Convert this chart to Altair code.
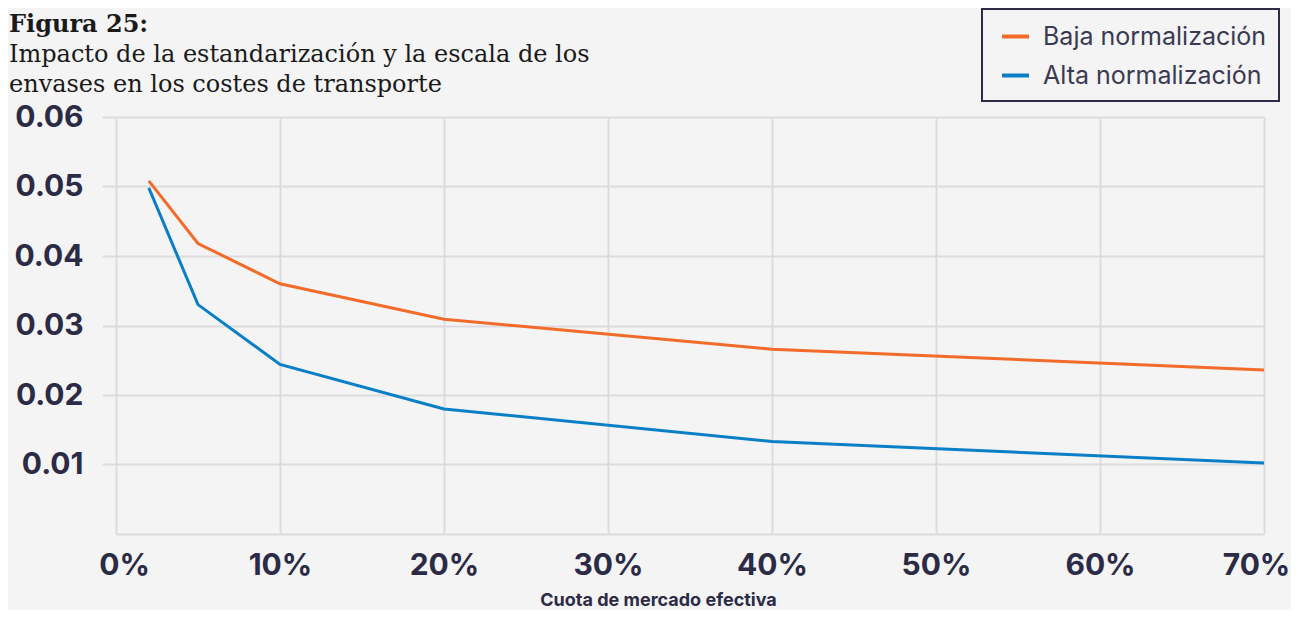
import altair as alt
import pandas as pd

# ---- data ----
share = [0.02, 0.05, 0.10, 0.20, 0.40, 0.70]
baja = [0.0508, 0.0418, 0.0360, 0.0309, 0.0266, 0.0236]
alta = [0.0498, 0.0330, 0.0244, 0.0180, 0.0133, 0.0102]
series_names = ["Baja normalización", "Alta normalización"]
series_colors = ["#f26b2a", "#0a7fc6"]
x_ticks = [0.0, 0.1, 0.2, 0.3, 0.4, 0.5, 0.6, 0.7]
y_ticks = [0.01, 0.02, 0.03, 0.04, 0.05, 0.06]
title_lines = [
    "Figura 25:",
    "Impacto de la estandarización y la escala de los",
    "envases en los costes de transporte",
]
x_title = "Cuota de mercado efectiva"

df = pd.DataFrame(
    {
        "cuota": share * 2,
        "coste": baja + alta,
        "serie": [series_names[0]] * len(share) + [series_names[1]] * len(share),
    }
)

INK = "#2b2b45"
GRID = "#dcdce0"
BG = "#f4f4f4"

lines = (
    alt.Chart(df)
    .mark_line(strokeWidth=3)
    .encode(
        x=alt.X(
            "cuota:Q",
            scale=alt.Scale(domain=[0, 0.7], nice=False),
            axis=alt.Axis(
                values=x_ticks,
                format=".0%",
                title=x_title,
                grid=True,
                gridColor=GRID,
                gridWidth=2,
                domain=True,
                domainColor=GRID,
                domainWidth=2,
                ticks=False,
                labelFlush=False,
                labelPadding=16,
                labelFont="Inter",
                labelFontWeight="bold",
                labelFontSize=30,
                labelColor=INK,
                labelOffset={
                    "condition": [
                        {"test": "datum.value === 0", "value": 8},
                        {"test": "datum.value >= 0.69", "value": -8},
                    ],
                    "value": 0,
                },
                titleFont="Inter",
                titleFontWeight="bold",
                titleFontSize=18,
                titleColor=INK,
                titleX=542,
                titleY=71,
                titleBaseline="alphabetic",
                titleAnchor="middle",
                titleAlign="center",
            ),
        ),
        y=alt.Y(
            "coste:Q",
            scale=alt.Scale(domain=[0, 0.06], nice=False),
            axis=alt.Axis(
                values=y_ticks,
                title=None,
                grid=True,
                gridColor=GRID,
                gridWidth=2,
                domain=False,
                ticks=True,
                tickSize=14,
                tickColor=GRID,
                tickWidth=2,
                labelPadding=19,
                labelFont="Inter",
                labelFontWeight="bold",
                labelFontSize=30,
                labelColor=INK,
            ),
        ),
        color=alt.Color(
            "serie:N",
            scale=alt.Scale(domain=series_names, range=series_colors),
            sort=series_names,
            legend=alt.Legend(
                title=None,
                orient="none",
                legendX=866,
                legendY=-108,
                padding=12,
                strokeColor=INK,
                fillColor=BG,
                symbolType="stroke",
                symbolSize=729,
                symbolStrokeWidth=4,
                symbolOffset=6,
                labelFont="Inter",
                labelFontSize=25,
                labelColor="#3a3a52",
                labelOffset=12,
                labelLimit=400,
                rowPadding=10,
            ),
        ),
    )
)

title_y = [-85, -55, -25]
title_weight = ["bold", "normal", "normal"]
title_layers = []
for txt, yy, w in zip(title_lines, title_y, title_weight):
    title_layers.append(
        alt.Chart(pd.DataFrame({"t": [txt]}))
        .mark_text(
            align="left",
            baseline="alphabetic",
            font="DejaVu Serif",
            fontSize=24,
            fontWeight=w,
            color="#1a1a1a",
        )
        .encode(text="t:N", x=alt.value(-107), y=alt.value(yy))
    )

chart = (
    alt.layer(lines, *title_layers)
    .properties(
        width=1148,
        height=417,
        background=BG,
        padding={"left": 108, "top": 109, "right": 27, "bottom": 76},
        autosize=alt.AutoSizeParams(type="none"),
    )
    .configure_view(stroke=None)
    .configure_legend(strokeWidth=2)
)

chart.save("out.html", embed_options={"renderer": "svg", "actions": False})
